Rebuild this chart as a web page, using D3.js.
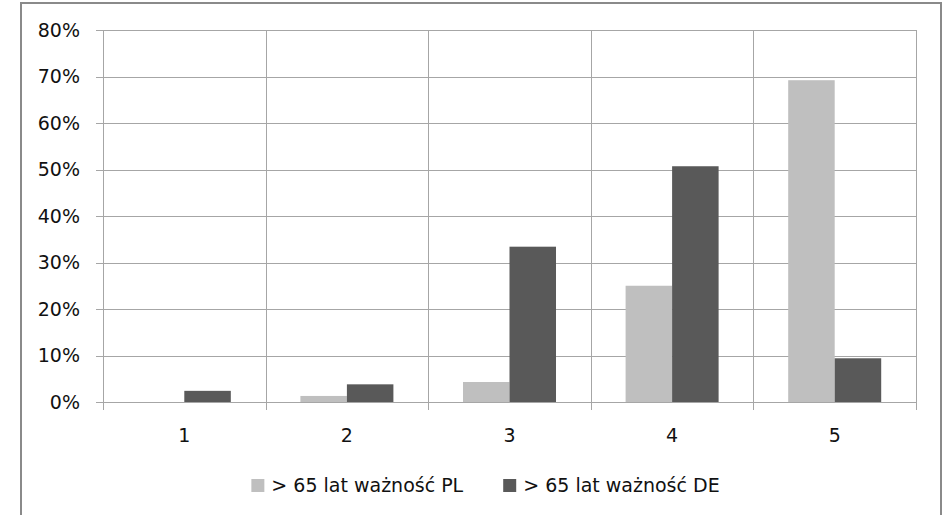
<!DOCTYPE html>
<html lang="pl">
<head>
  <meta charset="UTF-8">
  <title>&gt; 65 lat ważność PL / DE</title>
  <script src="https://d3js.org/d3.v7.min.js"></script>
  <style>
    body { margin: 0; background: #fff; }
    svg text { font-family: "DejaVu Sans", sans-serif; font-size: 19px; fill: #111; }
  </style>
</head>
<body>
  <div id="chart"></div>
  <script>
    // dane
    const categories = ["1", "2", "3", "4", "5"];
    const seriesNames = ["> 65 lat ważność PL", "> 65 lat ważność DE"];
    const valuesPL = [0, 0.013, 0.043, 0.250, 0.692];
    const valuesDE = [0.024, 0.038, 0.334, 0.507, 0.094];
    const yTicks = [0, 0.1, 0.2, 0.3, 0.4, 0.5, 0.6, 0.7, 0.8];
    const colors = ["#bfbfbf", "#595959"];

    const W = 943, H = 515;
    const plot = { left: 103, right: 916, top: 30, bottom: 402 };

    const svg = d3.select("#chart").append("svg")
      .attr("width", W)
      .attr("height", H);

    // ramka wykresu
    svg.append("rect")
      .attr("x", 21).attr("y", 3)
      .attr("width", 920).attr("height", 530)
      .attr("fill", "#fff")
      .attr("stroke", "#8a8a8a")
      .attr("stroke-width", 2);

    const x0 = d3.scaleBand()
      .domain(categories)
      .range([plot.left, plot.right]);

    const bw = x0.bandwidth();
    const x1 = d3.scaleBand()
      .domain([0, 1])
      .range([bw * 0.214, bw * 0.786]);

    const y = d3.scaleLinear()
      .domain([0, 0.8])
      .range([plot.bottom, plot.top]);

    const grid = svg.append("g").attr("stroke", "#a6a6a6").attr("stroke-width", 1);

    // linie poziome
    grid.selectAll(".h")
      .data(yTicks)
      .enter().append("line")
      .attr("x1", plot.left - 7)
      .attr("x2", plot.right)
      .attr("y1", d => Math.round(y(d)) + 0.5)
      .attr("y2", d => Math.round(y(d)) + 0.5);

    // linie pionowe (granice kategorii)
    const bounds = categories.map(c => x0(c)).concat([plot.right]);
    grid.selectAll(".v")
      .data(bounds)
      .enter().append("line")
      .attr("x1", d => Math.round(d) + 0.5)
      .attr("x2", d => Math.round(d) + 0.5)
      .attr("y1", plot.top)
      .attr("y2", plot.bottom + 8);

    // słupki
    const rows = categories.map((c, i) => ({ cat: c, vals: [valuesPL[i], valuesDE[i]] }));
    const groups = svg.selectAll(".grp")
      .data(rows)
      .enter().append("g")
      .attr("transform", d => "translate(" + x0(d.cat) + ",0)");

    groups.selectAll("rect")
      .data(d => d.vals.map((v, k) => ({ k: k, v: v })))
      .enter().append("rect")
      .attr("x", d => x1(d.k))
      .attr("y", d => y(d.v))
      .attr("width", x1.bandwidth())
      .attr("height", d => plot.bottom - y(d.v))
      .attr("fill", d => colors[d.k]);

    // oś Y
    svg.selectAll(".ylab")
      .data(yTicks)
      .enter().append("text")
      .attr("x", 80)
      .attr("y", d => y(d))
      .attr("dy", "0.35em")
      .attr("text-anchor", "end")
      .text(d => d3.format(".0%")(d));

    // oś X
    svg.selectAll(".xlab")
      .data(categories)
      .enter().append("text")
      .attr("x", d => x0(d) + bw / 2)
      .attr("y", 435)
      .attr("dy", "0.35em")
      .attr("text-anchor", "middle")
      .text(d => d);

    // legenda
    const legend = svg.append("g");
    const items = legend.selectAll("g")
      .data(seriesNames)
      .enter().append("g");
    items.append("rect")
      .attr("width", 13).attr("height", 13)
      .attr("y", 479)
      .attr("fill", (d, i) => colors[i]);
    items.append("text")
      .attr("x", 20)
      .attr("y", 485.5)
      .attr("dy", "0.35em")
      .text(d => d);

    let pos = 0;
    const gap = 40;
    const widths = [];
    items.each(function () { widths.push(20 + d3.select(this).select("text").node().getComputedTextLength()); });
    const total = d3.sum(widths) + gap * (widths.length - 1);
    const start = 485.5 - total / 2;
    items.attr("transform", (d, i) => {
      const t = "translate(" + (start + pos) + ",0)";
      pos += widths[i] + gap;
      return t;
    });
  </script>
</body>
</html>
